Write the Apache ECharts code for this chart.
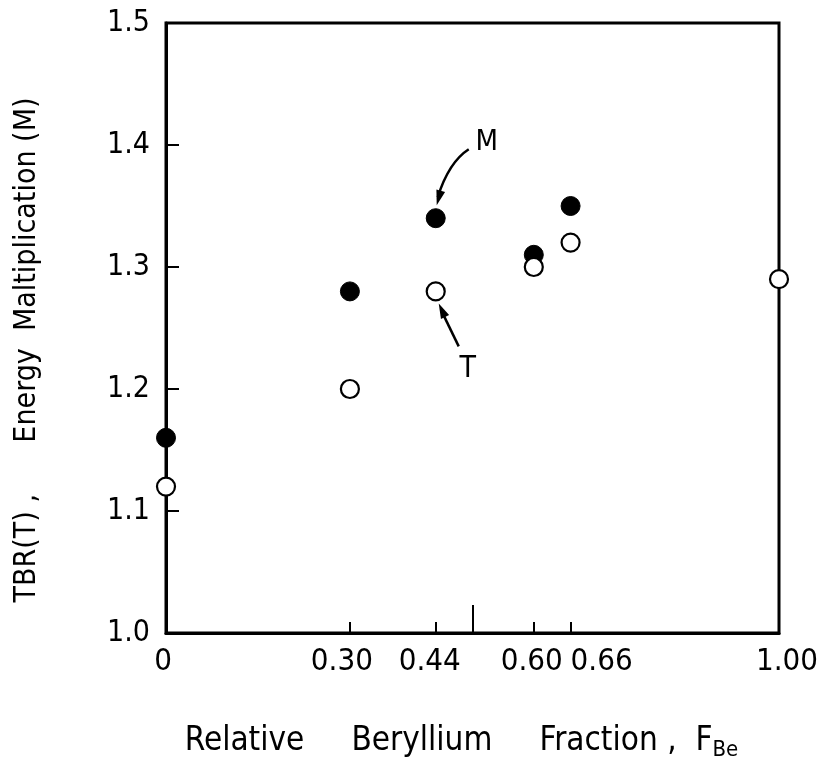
<!DOCTYPE html>
<html><head><meta charset="utf-8">
<script src="https://cdn.jsdelivr.net/npm/echarts@6/dist/echarts.min.js"></script>
<style>html,body{margin:0;padding:0;background:#fff}#c{width:824px;height:769px}</style>
</head><body><div id="c"></div>
<script>
// ---- data ----
const fraction = [0, 0.30, 0.44, 0.60, 0.66, 1.00];
const energyMult = [1.16, 1.28, 1.34, 1.31, 1.35, null];
const tbr = [1.12, 1.20, 1.28, 1.30, 1.32, 1.29];
const xTickValues = [0, 0.30, 0.44, 0.60, 0.66, 1.00];
const xTickLabels = ['0', '0.30', '0.44', '0.60', '0.66', '1.00'];
const xShortTicks = [0.30, 0.44, 0.60, 0.66];
const xLongTicks = [0.50];
const yTickValues = [1.0, 1.1, 1.2, 1.3, 1.4, 1.5];
const yTickLabels = ['1.0', '1.1', '1.2', '1.3', '1.4', '1.5'];

// ---- layout (px) ----
const labelShift = [-3, -8, -6, -2, 31, 8];
const FONT = "'DejaVu Sans Condensed','Liberation Sans Narrow','Liberation Sans',sans-serif";

const rich = {};
labelShift.forEach((dx, i) => {
  rich['s' + i] = {
    fontFamily: FONT, fontSize: 31, color: '#000',
    padding: dx >= 0 ? [0, 0, 0, 2 * dx] : [0, -2 * dx, 0, 0]
  };
});

const chart = echarts.init(document.getElementById('c'), null, {renderer: 'canvas'});
const mData = fraction.map((x, i) => energyMult[i] == null ? null : [x, energyMult[i]]).filter(d => d);
const tData = fraction.map((x, i) => [x, tbr[i]]);

chart.setOption({
  animation: false,
  backgroundColor: '#fff',
  grid: {left: 166, right: 45, top: 23, bottom: 136, show: true, borderColor: '#000', borderWidth: 3, backgroundColor: 'transparent'},
  xAxis: [{
    type: 'value', min: 0, max: 1,
    axisLine: {show: true, lineStyle: {color: '#000', width: 3}},
    splitLine: {show: false},
    axisTick: {show: true, inside: true, length: 11, customValues: xShortTicks, lineStyle: {color: '#000', width: 2}},
    axisLabel: {
      show: true, margin: 13, customValues: xTickValues,
      formatter: v => {
        const i = xTickValues.findIndex(t => Math.abs(t - v) < 1e-6);
        return i < 0 ? '' : '{s' + i + '|' + xTickLabels[i] + '}';
      },
      rich: rich
    },
    name: 'Relative     Beryllium     Fraction ,  {f|F}{sub|Be}',
    nameLocation: 'middle', nameGap: 88,
    nameTextStyle: {
      fontFamily: FONT, fontSize: 33, color: '#000', lineHeight: 40, padding: [0, 22, 0, 0],
      rich: {
        f: {fontFamily: FONT, fontSize: 33, color: '#000', lineHeight: 40},
        sub: {fontFamily: FONT, fontSize: 22, color: '#000', lineHeight: 21, verticalAlign: 'bottom'}
      }
    }
  }, {
    type: 'value', min: 0, max: 1, position: 'bottom',
    axisLine: {show: false}, splitLine: {show: false}, axisLabel: {show: false},
    axisTick: {show: true, inside: true, length: 28, customValues: xLongTicks, lineStyle: {color: '#000', width: 2}}
  }],
  yAxis: {
    type: 'value', min: 1.0, max: 1.5, interval: 0.1,
    axisLine: {show: true, lineStyle: {color: '#000', width: 3}},
    splitLine: {show: false},
    axisTick: {show: true, inside: true, length: 13, lineStyle: {color: '#000', width: 2}},
    axisLabel: {
      margin: 16, fontFamily: FONT, fontSize: 30, color: '#000',
      formatter: v => {
        const i = yTickValues.findIndex(t => Math.abs(t - v) < 1e-6);
        return i < 0 ? '' : yTickLabels[i];
      }
    },
    name: 'TBR(T) ,      Energy  Maltiplication (M)',
    nameLocation: 'middle', nameGap: 124, nameRotate: 90,
    nameTextStyle: {fontFamily: FONT, fontSize: 30, color: '#000', padding: [0, 44, 0, 0]}
  },
  series: [{
    name: 'M', type: 'scatter', data: mData, symbol: 'circle', symbolSize: 19, clip: false, z: 5,
    itemStyle: {color: '#000', borderColor: '#000', borderWidth: 1, opacity: 1}
  }, {
    name: 'T', type: 'scatter', data: tData, symbol: 'circle', symbolSize: 18, clip: false, z: 5,
    itemStyle: {color: '#fff', borderColor: '#000', borderWidth: 2.2, opacity: 1}
  }]
});

// ---- annotations placed relative to data points ----
function head(tip, from, len, half) {
  const dx = tip[0] - from[0], dy = tip[1] - from[1];
  const L = Math.hypot(dx, dy), ux = dx / L, uy = dy / L;
  const bx = tip[0] - ux * len, by = tip[1] - uy * len;
  return [[tip[0], tip[1]], [bx - uy * half, by + ux * half], [bx + uy * half, by - ux * half]];
}
const pM = chart.convertToPixel({seriesIndex: 0}, [0.44, 1.34]);
const pT = chart.convertToPixel({seriesIndex: 1}, [0.44, 1.28]);
const mStart = [pM[0] + 33, pM[1] - 69], mCtrl = [pM[0] + 13, pM[1] - 56], mTip = [pM[0] + 1, pM[1] - 13];
const tStart = [pT[0] + 23, pT[1] + 55], tTip = [pT[0] + 3, pT[1] + 12];
chart.setOption({
  graphic: [
    {type: 'bezierCurve', shape: {x1: mStart[0], y1: mStart[1], cpx1: mCtrl[0], cpy1: mCtrl[1], x2: mTip[0] + 1, y2: mTip[1] - 8},
     style: {stroke: '#000', lineWidth: 2.5, fill: null}, z: 10},
    {type: 'polygon', shape: {points: head(mTip, mCtrl, 15, 4.5)}, style: {fill: '#000'}, z: 10},
    {type: 'text', x: pM[0] + 51, y: pM[1] - 76, style: {text: 'M', font: '29px ' + FONT, fill: '#000', align: 'center', verticalAlign: 'middle'}, z: 10},
    {type: 'line', shape: {x1: tStart[0], y1: tStart[1], x2: tTip[0] + 3, y2: tTip[1] + 8},
     style: {stroke: '#000', lineWidth: 2.5}, z: 10},
    {type: 'polygon', shape: {points: head(tTip, tStart, 15, 4.5)}, style: {fill: '#000'}, z: 10},
    {type: 'text', x: pT[0] + 32, y: pT[1] + 78, style: {text: 'T', font: '30px ' + FONT, fill: '#000', align: 'center', verticalAlign: 'middle'}, z: 10}
  ]
});
</script>
</body></html>
